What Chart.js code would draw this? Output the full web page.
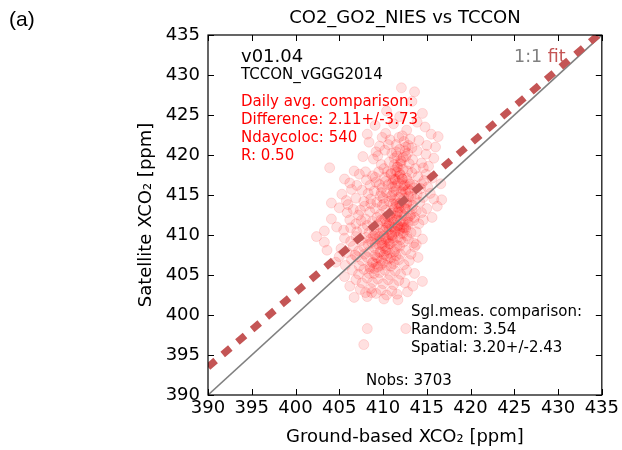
<!DOCTYPE html>
<html>
<head>
<meta charset="utf-8">
<script src="https://cdn.jsdelivr.net/npm/chart.js@4.4.0/dist/chart.umd.min.js"></script>
<style>
  html, body { margin:0; padding:0; background:#fff; }
  #wrap { width:622px; height:450px; }
</style>
</head>
<body>
<div id="wrap"><canvas id="cmp"></canvas></div>
<script>
// ── Axis range (ppm) ─────────────────────────────────────────
const axisMin  = 390;
const axisMax  = 435;
const tickStep = 5;

// ── Daily-average colocations: [ground-based XCO2, satellite XCO2] ──
const dailyTop = [
  [413.6,427.9],[413.3,426.7],[412.1,428.4],[414.5,425.2],[411.9,424.8],[410.4,425.5],
  [409.1,423.7],[411.2,423.9],[412.7,423.1],[413.9,424.1],[415.5,422.6],[416.3,422.3],
  [410.3,422.7],[412.2,422.4],[414.8,423.5],[408.2,422.6]
];
const dailyUpper = [
  [408.4,421.6],[409.6,421.1],[410.8,421.9],[411.5,421.3],[412.4,421.7],[413.3,420.9],
  [414.1,421.8],[415.0,421.2],[409.2,420.4],[411.9,420.7],[412.8,420.2],[410.2,420.6],
  [413.9,420.5],[411.3,419.6],[412.1,419.2],[412.6,419.8],[413.4,419.4],[410.7,419.1],
  [409.8,418.8],[411.7,418.5],[412.3,418.2],[413.0,418.9],[414.4,419.0],[415.2,418.6],
  [408.9,419.5],[410.1,418.3],[411.0,420.2],[412.0,418.9],[411.6,419.9],[413.7,418.3],
  [414.9,420.1],[409.4,419.9],[412.9,421.2],[410.6,421.3],[411.4,418.1],[412.5,420.5],
  [407.7,419.8],[406.2,416.5],[403.9,418.4],[415.8,419.6],[416.0,421.0],[413.1,422.0],
  [409.9,422.2],[411.8,422.2],[414.6,418.4]
];
const dailyMid = [
  [407.3,417.6],[408.1,416.9],[408.8,417.4],[409.5,417.9],[410.2,417.2],[410.9,417.7],
  [411.4,417.0],[412.0,417.5],[412.7,417.1],[413.3,417.8],[414.0,417.3],[414.7,416.8],
  [415.6,417.1],[416.6,416.4],[408.5,416.2],[409.2,416.6],[409.9,415.9],[410.6,416.3],
  [411.1,416.0],[411.7,416.5],[412.3,416.1],[412.9,416.7],[413.6,416.2],[414.3,415.8],
  [415.1,416.0],[407.6,415.6],[408.3,415.2],[409.0,415.5],[409.7,414.9],[410.4,415.3],
  [411.0,415.0],[411.5,415.6],[412.1,415.1],[412.6,415.4],[413.2,414.8],[413.9,415.1],
  [414.6,414.7],[415.4,415.2],[406.9,414.6],[407.8,414.2],[408.6,414.5],[409.3,414.1],
  [410.0,414.6],[410.7,414.2],[411.3,414.4],[411.9,414.0],[412.4,414.6],[413.0,414.2],
  [413.7,414.5],[414.2,414.1],[416.7,414.4],[404.1,414.0],[405.3,415.1],[406.4,415.7],
  [405.8,414.3],[410.5,417.9],[411.8,417.3],[412.5,416.3],[409.6,416.3],[411.2,415.4],
  [412.9,415.7],[410.9,414.8],[413.5,415.9],[408.0,417.9],[414.9,417.6],[415.8,414.5],
  [411.6,417.9],[412.2,417.0],[409.1,417.2],[410.3,416.7],[411.4,416.9],[413.1,416.4],
  [407.0,416.2],[405.6,417.0],[406.7,418.0],[412.8,418.0],[414.4,416.4],[411.0,416.4],
  [409.8,415.3],[412.3,415.7]
];
const dailyCore = [
  [405.0,413.4],[405.9,412.8],[406.6,413.2],[407.2,412.5],[407.9,413.6],[408.5,412.9],
  [409.1,413.3],[409.7,412.6],[410.3,413.1],[410.9,412.7],[411.4,413.5],[412.0,412.9],
  [412.6,413.3],[413.2,412.6],[413.8,413.0],[414.4,412.8],[415.0,413.3],[406.2,411.9],
  [406.9,411.4],[407.5,411.8],[408.2,411.2],[408.8,411.7],[409.4,411.3],[410.0,411.8],
  [410.6,411.1],[411.2,411.6],[411.7,411.2],[412.3,411.7],[412.9,411.3],[413.5,411.8],
  [414.1,411.4],[404.7,411.0],[405.5,410.6],[406.3,410.9],[407.0,410.4],[407.7,410.8],
  [408.4,410.3],[409.0,410.7],[409.6,410.2],[410.2,410.6],[410.8,410.1],[411.4,410.5],
  [412.0,410.2],[412.6,410.7],[413.2,410.3],[413.8,410.4],[402.4,409.8],[403.3,410.5],
  [404.1,412.0],[411.1,413.9],[411.8,413.4],[412.4,412.4],[411.0,412.2],[411.6,411.9],
  [412.2,411.0],[410.5,412.3],[409.9,413.7],[411.3,410.9],[412.8,412.1],[410.1,413.9],
  [411.9,413.9],[409.3,412.2],[408.6,413.9],[412.4,410.9],[413.4,413.7],[414.6,411.9],
  [415.6,412.2],[416.2,413.6],[410.7,411.4],[411.5,412.4],[411.9,410.8],[410.4,410.9],
  [409.8,411.9],[412.7,413.8],[413.6,412.2],[411.0,411.0],[410.2,412.0],[409.1,410.1],
  [411.7,412.9],[412.1,413.6],[408.0,412.0],[407.4,413.1],[406.0,413.8],[413.8,408.8]
];
// the dense diagonal band through the middle of the cloud
const dailyDense = [
  [409.0,405.2],[409.4,406.0],[409.8,406.8],[410.1,407.5],[410.5,408.2],[410.8,408.9],
  [411.1,409.6],[411.4,410.4],[411.7,411.1],[412.0,411.8],[412.2,412.6],[412.5,413.3],
  [412.7,414.0],[412.9,414.8],[413.1,415.5],[412.4,416.2],[412.2,417.0],[411.9,417.7],
  [411.6,418.5],[412.0,419.3],[410.4,406.2],[410.9,407.1],[411.3,407.9],[411.6,408.7],
  [412.0,409.4],[412.3,410.2],[412.6,410.9],[412.9,411.6],[413.1,412.4],[413.3,413.2],
  [411.0,410.0],[410.6,409.3],[410.2,408.6],[409.7,407.9],[409.3,407.2],[408.8,406.5],
  [408.5,405.8],[409.1,408.9],[409.6,409.8],[410.0,410.6],[410.4,411.5],[410.8,412.3],
  [411.1,413.1],[411.5,413.9],[411.8,414.7],[412.1,415.4],[411.4,416.1],[411.2,416.9],
  [410.9,417.6],[411.3,418.8],[412.3,419.7],[411.5,420.4],[412.6,421.0],[411.9,410.6],
  [412.4,411.3],[410.7,410.7],[411.2,411.9],[411.6,412.7],[410.3,409.5],[409.9,408.7]
];
const dailyLower = [
  [405.6,409.6],[406.3,409.2],[406.9,409.8],[407.5,409.3],[408.1,409.7],[408.7,409.1],
  [409.3,409.5],[409.9,409.0],[410.5,409.6],[411.1,409.2],[411.7,409.7],[412.3,409.1],
  [412.9,409.5],[413.5,409.0],[403.3,409.1],[403.6,408.1],[405.2,408.3],[405.9,407.8],
  [406.6,408.6],[407.2,408.0],[407.8,408.5],[408.4,407.9],[409.0,408.4],[409.6,407.8],
  [410.2,408.3],[410.8,407.7],[411.4,408.2],[412.0,407.6],[412.6,408.1],[413.2,407.6],
  [406.4,406.9],[407.0,407.3],[407.6,406.8],[408.2,407.2],[408.8,406.6],[409.4,407.1],
  [410.0,406.5],[410.6,407.0],[411.2,406.4],[411.8,406.9],[412.4,406.3],[413.0,406.8],
  [414.0,407.2],[404.6,406.6],[405.7,406.2],[407.3,406.1],[408.5,406.0],[409.7,406.2],
  [410.9,406.1],[408.9,409.9],[410.7,408.9],[411.5,407.4],[409.5,408.8],[408.3,408.8],
  [410.1,409.9],[409.2,406.4],[411.9,408.6],[407.9,407.6],[412.7,409.9],[410.4,407.4],
  [406.8,407.5],[413.6,408.5],[405.0,407.3],[414.5,409.5],[409.8,409.4],[411.0,409.9],
  [408.6,409.5],[410.3,408.0],[409.1,407.5],[411.3,406.8]
];
const dailyBottom = [
  [406.5,405.6],[407.2,405.1],[407.8,405.7],[408.4,405.2],[409.0,405.8],[409.6,405.3],
  [410.2,405.6],[410.8,405.0],[411.4,405.5],[412.0,405.1],[412.7,405.6],[413.6,405.2],
  [406.9,404.4],[407.6,404.0],[408.2,404.6],[408.8,404.1],[409.4,404.5],[410.0,403.9],
  [410.6,404.4],[411.2,403.8],[411.8,404.3],[412.5,404.0],[407.4,403.2],[408.0,402.8],
  [408.6,403.3],[409.2,402.7],[409.8,403.1],[410.4,402.5],[411.0,403.0],[411.6,402.6],
  [413.4,403.6],[414.5,404.2],[405.6,404.8],[406.2,403.6],[410.1,402.0],[412.8,402.9],
  [406.7,402.2],[408.2,402.3],[408.7,402.8],[411.7,401.9],[408.2,398.3],[412.6,398.3],
  [407.8,396.3]
];

// ── Reference lines ──────────────────────────────────────────
const oneToOne = [[390, 390], [435, 435]];
const fitLine  = [[390, 393.5], [434.6, 435]];

// ── Statistics text ──────────────────────────────────────────
const versionText = 'v01.04';
const refText     = 'TCCON_vGGG2014';
const dailyStats  = ['Daily avg. comparison:', 'Difference: 2.11+/-3.73', 'Ndaycoloc: 540', 'R: 0.50'];
const singleStats = ['Sgl.meas. comparison:', 'Random: 3.54', 'Spatial: 3.20+/-2.43'];
const nobsText    = 'Nobs: 3703';

const FONT = "'DejaVu Sans', sans-serif";
const FIT_COLOR = '#c45555';
const toXY = arr => arr.map(([x, y]) => ({ x, y }));
const allDaily = [].concat(dailyTop, dailyUpper, dailyMid, dailyCore, dailyDense, dailyLower, dailyBottom);

// box, inward ticks and text annotations
const frame = {
  id: 'frame',
  afterDatasetsDraw(chart) {
    const { ctx, chartArea: a, scales: { x, y } } = chart;
    ctx.save();
    ctx.strokeStyle = '#000';
    ctx.lineWidth = 1.2;
    ctx.strokeRect(a.left, a.top, a.right - a.left, a.bottom - a.top);
    ctx.lineWidth = 1;
    ctx.beginPath();
    for (let v = axisMin; v <= axisMax; v += tickStep) {
      const px = Math.round(x.getPixelForValue(v)) + 0.5;
      const py = Math.round(y.getPixelForValue(v)) + 0.5;
      ctx.moveTo(px, a.bottom); ctx.lineTo(px, a.bottom - 6);
      ctx.moveTo(px, a.top);    ctx.lineTo(px, a.top + 6);
      ctx.moveTo(a.left, py);   ctx.lineTo(a.left + 6, py);
      ctx.moveTo(a.right, py);  ctx.lineTo(a.right - 6, py);
    }
    ctx.stroke();

    ctx.textBaseline = 'middle';
    ctx.textAlign = 'left';
    const lx = a.left + 33;
    ctx.fillStyle = '#000';
    ctx.font = '18px ' + FONT;
    ctx.fillText(versionText, lx, 57);
    ctx.font = '15px ' + FONT;
    ctx.fillText(refText, lx, 75);

    ctx.fillStyle = '#ff0000';
    dailyStats.forEach((t, i) => ctx.fillText(t, lx, 102 + i * 18));

    ctx.fillStyle = '#000';
    singleStats.forEach((t, i) => ctx.fillText(t, a.left + 203, 312 + i * 18));
    ctx.fillText(nobsText, a.left + 158, 381);

    // "1:1 fit" key
    ctx.font = '17.5px ' + FONT;
    ctx.fillStyle = '#808080';
    ctx.fillText('1:1', 514, 57);
    const w = ctx.measureText('1:1 ').width;
    ctx.fillStyle = FIT_COLOR;
    ctx.fillText('fit', 514 + w, 57);

    // title and panel letter
    ctx.fillStyle = '#000';
    ctx.textAlign = 'center';
    ctx.font = '18px ' + FONT;
    ctx.fillText('CO2_GO2_NIES vs TCCON', (a.left + a.right) / 2, 18);
    ctx.textAlign = 'left';
    ctx.font = "21px 'Liberation Sans', Arial, sans-serif";
    ctx.fillText('(a)', 9, 20);
    ctx.restore();
  }
};

const tickFont = { family: FONT, size: 18 };
const titleFont = { family: FONT, size: 18 };

new Chart(document.getElementById('cmp'), {
  type: 'scatter',
  data: {
    datasets: [
      {
        type: 'line', data: toXY(fitLine), order: 1, clip: 0,
        borderColor: FIT_COLOR, borderWidth: 7, borderDash: [10, 9.3],
        borderCapStyle: 'butt', pointRadius: 0, fill: false
      },
      {
        type: 'line', data: toXY(oneToOne), order: 2, clip: 0,
        borderColor: '#808080', borderWidth: 1.6, pointRadius: 0, fill: false
      },
      {
        data: toXY(allDaily), order: 3,
        backgroundColor: 'rgba(255,0,0,0.12)', borderColor: 'rgba(255,0,0,0.12)',
        borderWidth: 1, pointRadius: 5, pointHoverRadius: 5
      }
    ]
  },
  options: {
    responsive: true,
    maintainAspectRatio: false,
    animation: false,
    events: [],
    layout: { padding: { left: 120, top: 35, right: 19, bottom: 0 } },
    plugins: { legend: { display: false }, tooltip: { enabled: false } },
    scales: {
      x: {
        type: 'linear', min: axisMin, max: axisMax,
        afterFit: s => { s.height = 55; },
        grid: { display: false, drawTicks: false },
        border: { display: false },
        ticks: { stepSize: tickStep, color: '#000', font: tickFont, padding: 3, maxRotation: 0 },
        title: { display: true, text: 'Ground-based XCO₂ [ppm]', color: '#000', font: titleFont, padding: { top: 0, bottom: 2 } }
      },
      y: {
        type: 'linear', min: axisMin, max: axisMax,
        afterFit: s => { s.width = 88; },
        grid: { display: false, drawTicks: false },
        border: { display: false },
        ticks: { stepSize: tickStep, color: '#000', font: tickFont, padding: 8 },
        title: { display: true, text: 'Satellite XCO₂ [ppm]', color: '#000', font: titleFont, padding: { top: 16, bottom: 0 } }
      }
    }
  },
  plugins: [frame]
});
</script>
</body>
</html>
